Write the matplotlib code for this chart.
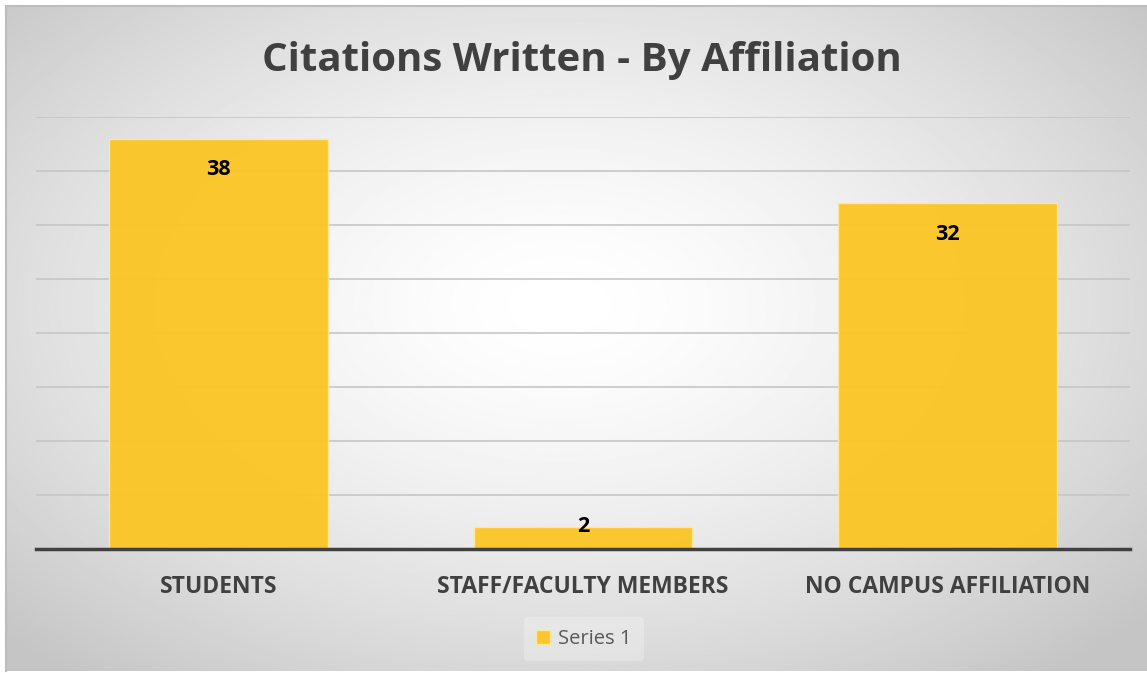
import matplotlib.pyplot as plt
import numpy as np

# data
categories = ["STUDENTS", "STAFF/FACULTY MEMBERS", "NO CAMPUS AFFILIATION"]
citations = [38, 2, 32]
series_name = "Series 1"
title = "Citations Written - By Affiliation"

plt.rcParams['font.family'] = ['Open Sans', 'DejaVu Sans']

W, H = 1147, 673
fig = plt.figure(figsize=(W / 100, H / 100), dpi=100)
fig.patch.set_facecolor("white")

# radial grey gradient behind the chart
bg = fig.add_axes([6 / W, 2 / H, (W - 6) / W, (H - 8) / H], zorder=-10)
yy, xx = np.mgrid[-1:1:400j, -1:1:700j]
r = np.sqrt(((xx + 0.03) / 1.1) ** 2 + ((yy + 0.1) / 1.15) ** 2)
r = np.clip(r / 1.25, 0, 1)
vals = 1 - 0.23 * r ** 1.5
bg.imshow(vals, cmap="gray", vmin=0, vmax=1, aspect="auto", extent=[0, 1, 0, 1])
bg.set_xticks([])
bg.set_yticks([])
for side in ["left", "top"]:
    bg.spines[side].set_color("#BDBDBD")
    bg.spines[side].set_linewidth(1.5)
for side in ["right", "bottom"]:
    bg.spines[side].set_visible(False)

ax = fig.add_axes([36 / W, 124 / H, (1130 - 36) / W, (549 - 117) / H])
ax.set_facecolor("none")
x = np.arange(len(categories))
bars = ax.bar(x, citations, width=0.6, color="#FCC524", alpha=0.95,
              edgecolor="#FFE7A0", linewidth=1, zorder=3, label=series_name)

ax.set_xlim(-0.5, len(categories) - 0.5)
ax.set_ylim(0, 40)
ax.set_yticks(np.arange(0, 41, 5))
ax.set_yticklabels([])
ax.tick_params(axis="y", length=0)
ax.tick_params(axis="x", length=0, pad=18.5)
ax.yaxis.grid(True, color="#C6C6C6", linewidth=1.2, zorder=0)
ax.set_axisbelow(True)
for side in ["left", "right", "top"]:
    ax.spines[side].set_visible(False)
ax.spines["bottom"].set_color("#404040")
ax.spines["bottom"].set_linewidth(2.5)
ax.spines["bottom"].set_zorder(5)

ax.set_xticks(x)
ax.set_xticklabels(categories, fontsize=16.5, fontweight="bold", color="#404040")

# data labels (inside end, small bar spills above)
for xi, v in zip(x, citations):
    off = -22.5 if v > 5 else 1
    ax.annotate(str(v), (xi, v), xytext=(0, off), textcoords="offset points",
                ha="center", va="center", fontsize=15.5, fontweight="bold",
                color="black", zorder=6)

fig.text(582 / W, 1 - 60 / H, title, ha="center", va="center",
         fontsize=29, fontweight="bold", color="#404040")

leg = fig.legend(loc="center", bbox_to_anchor=(584 / W, 1 - 639 / H),
                 frameon=True, fontsize=14.5, handlelength=0.7, handleheight=0.7,
                 handletextpad=0.4, borderpad=0.6)
leg.get_frame().set_facecolor("white")
leg.get_frame().set_alpha(0.25)
leg.get_frame().set_edgecolor("none")
for t in leg.get_texts():
    t.set_color("#595959")

fig.savefig("out.png", dpi=100)
